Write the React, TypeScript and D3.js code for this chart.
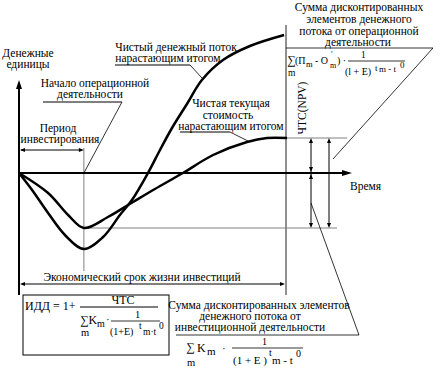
import React from 'react';
import * as d3 from 'd3';

// Curves: cumulative net cash flow and cumulative NPV (time in arbitrary years, money in arbitrary units)
const cashT = [0, 0.49, 1.09, 1.72, 2.43, 3.15, 3.78, 4.23, 4.83, 5.28, 5.73, 6.29, 6.85, 7.64, 8.65, 9.93];
const cashV = [0, -17, -40, -62, -76, -64, -42, -27, 0, 23, 45, 69, 93, 113, 127, 138];
const npvT = [0, 1.09, 1.84, 2.43, 3.33, 4.27, 5.09, 6.14, 7.27, 8.54, 9.29, 10.04];
const npvV = [0, -20, -42, -55, -44, -29, -16, 0, 18, 31, 35, 35];
const investEnd = 2.43;
const lifeEnd = 10;
const npvFinal = 35;
const npvMin = -55;

const FONT = '"Liberation Serif", "DejaVu Serif", serif';
const GRAY = '#808080';

function arrowHead(x: number, y: number, dir: 'up' | 'down' | 'left' | 'right', len = 5, half = 2) {
  let pts: [number, number][] = [];
  if (dir === 'up') pts = [[x, y], [x - half, y + len], [x + half, y + len]];
  if (dir === 'down') pts = [[x, y], [x - half, y - len], [x + half, y - len]];
  if (dir === 'left') pts = [[x, y], [x + len, y - half], [x + len, y + half]];
  if (dir === 'right') pts = [[x, y], [x - len, y - half], [x - len, y + half]];
  return <polygon points={pts.map(p => p.join(',')).join(' ')} fill="#000" />;
}

const T = ({ size = 11.5, style, ...props }: any) => (
  <text fill="#000" style={{ fontFamily: FONT, fontSize: size, ...(style || {}) }} {...props} />
);

export default function App() {
  const x = d3.scaleLinear().domain([0, 10]).range([19, 286]);
  const y = d3.scaleLinear().domain([0, 100]).range([173, 73]);
  const line = d3
    .line<[number, number]>()
    .x(d => x(d[0]))
    .y(d => y(d[1]))
    .curve(d3.curveCatmullRom.alpha(0.5));
  const cashPts = cashT.map((t, i) => [t, cashV[i]] as [number, number]);
  const npvPts = npvT.map((t, i) => [t, npvV[i]] as [number, number]);

  const xi = x(investEnd);
  const xl = x(lifeEnd);
  const y0 = y(0);
  const yTop = y(npvFinal);
  const yMin = y(npvMin);
  const axisEnd = 352;
  const a1 = 311;
  const a2 = 329;

  return (
    <svg width={442} height={376} style={{ position: 'absolute', left: 0, top: 0, background: '#fff' }}>
      <rect width={442} height={376} fill="#fff" />
      {/* thin reference lines */}
      <line x1={xi} x2={xi} y1={148} y2={271} stroke={GRAY} strokeWidth={1} />
      <line x1={xl} x2={xl} y1={25} y2={295} stroke="#222" strokeWidth={1} />
      <line x1={xl} x2={347} y1={yTop} y2={yTop} stroke={GRAY} strokeWidth={1} />
      <line x1={xi} x2={337} y1={yMin} y2={yMin} stroke={GRAY} strokeWidth={1} />

      {/* axes */}
      <line x1={19} x2={19} y1={295} y2={86} stroke="#000" strokeWidth={2} />
      {arrowHead(19, 80, 'up', 9, 3)}
      <line x1={19} x2={axisEnd - 8} y1={y0} y2={y0} stroke="#000" strokeWidth={2} />
      {arrowHead(axisEnd, y0, 'right', 10, 3)}

      {/* curves */}
      <path d={line(cashPts) || ''} fill="none" stroke="#000" strokeWidth={2.5} />
      <path d={line(npvPts) || ''} fill="none" stroke="#000" strokeWidth={2.5} />

      {/* investment period arrow */}
      <line x1={21} x2={xi - 2} y1={150} y2={150} stroke="#000" strokeWidth={1} />
      {arrowHead(20, 150, 'left', 5, 2)}
      {arrowHead(xi, 150, 'right', 5, 2)}

      {/* economic life arrow */}
      <line x1={22} x2={xl - 3} y1={284} y2={284} stroke="#000" strokeWidth={1} />
      {arrowHead(20, 284, 'left', 5, 2)}
      {arrowHead(xl - 1, 284, 'right', 5, 2)}

      {/* NPV arrows */}
      <line x1={a1} x2={a1} y1={yTop + 2} y2={yMin - 2} stroke="#000" strokeWidth={1} />
      {arrowHead(a1, yTop, 'up', 5, 2)}
      {arrowHead(a1, y0 - 1, 'down', 5, 2)}
      {arrowHead(a1, y0 + 1, 'up', 5, 2)}
      {arrowHead(a1, yMin, 'down', 5, 2)}
      <line x1={a2} x2={a2} y1={yTop + 2} y2={yMin - 2} stroke="#000" strokeWidth={1} />
      {arrowHead(a2, yTop, 'up', 5, 2)}
      {arrowHead(a2, yMin, 'down', 5, 2)}

      {/* leaders */}
      <line x1={43} x2={122} y1={102} y2={102} stroke="#000" strokeWidth={1} />
      <line x1={122} x2={xi} y1={102} y2={y0} stroke="#000" strokeWidth={0.8} />
      <line x1={115} x2={190} y1={65} y2={65} stroke="#000" strokeWidth={1} />
      <line x1={190} x2={202} y1={65} y2={78} stroke="#000" strokeWidth={0.8} />
      <line x1={180} x2={230} y1={132} y2={132} stroke="#000" strokeWidth={1} />
      <line x1={230} x2={248} y1={132} y2={141} stroke="#000" strokeWidth={0.8} />

      {/* triangles */}
      <polyline points={`${xl},48 433,48 333,159`} fill="none" stroke="#000" strokeWidth={0.8} />
      <polyline points={`${a1},203 359,335 176,335`} fill="none" stroke="#000" strokeWidth={0.8} />

      {/* box */}
      <rect x={23} y={295} width={146} height={60} fill="none" stroke="#000" strokeWidth={1} />

      {/* labels */}
      <T x={28} y={57} textAnchor="middle">Денежные</T>
      <T x={28} y={68} textAnchor="middle">единицы</T>
      <T x={176} y={51} textAnchor="middle">Чистый денежный поток</T>
      <T x={168} y={62} textAnchor="middle">нарастающим итогом</T>
      <T x={95} y={87} textAnchor="middle">Начало операционной</T>
      <T x={90} y={98} textAnchor="middle">деятельности</T>
      <T x={58} y={132} textAnchor="middle">Период</T>
      <T x={60} y={143} textAnchor="middle">инвестирования</T>
      <T x={231} y={107} textAnchor="middle">Чистая текущая</T>
      <T x={228} y={118.5} textAnchor="middle">стоимость</T>
      <T x={231} y={130} textAnchor="middle">нарастающим итогом</T>
      <T x={350} y={190}>Время</T>
      <T x={142} y={281} textAnchor="middle">Экономический срок жизни инвестиций</T>
      <T x={0} y={0} textAnchor="middle" transform="translate(306,108) rotate(-90)">ЧТС(NPV)</T>

      <T x={359} y={11} textAnchor="middle">Сумма дисконтированных</T>
      <T x={359} y={23} textAnchor="middle">элементов денежного</T>
      <T x={359} y={34.5} textAnchor="middle">потока от операционной</T>
      <T x={358} y={46} textAnchor="middle">деятельности</T>

      {/* top-right formula */}
      <T x={287} y={64} size={12}>∑</T>
      <T x={288} y={76} size={9.5}>m</T>
      <T x={295} y={64} size={10}>(П</T>
      <T x={306} y={67} size={8.5}>m</T>
      <T x={315} y={64} size={10}>- O</T>
      <T x={331} y={57} size={8}>′</T>
      <T x={330} y={68} size={8}>m</T>
      <T x={337} y={64} size={10}>) ·</T>
      <T x={361} y={58} size={9.5}>1</T>
      <line x1={348} x2={405} y1={61} y2={61} stroke="#000" strokeWidth={0.8} />
      <T x={345} y={75} size={10}>(l + E)</T>
      <T x={375} y={71} size={9}>t</T>
      <T x={379} y={72} size={9}>m - t</T>
      <T x={400} y={68} size={9}>0</T>

      {/* box formula */}
      <T x={25} y={310} size={12}>ИДД = 1+</T>
      <line x1={80} x2={158} y1={307} y2={307} stroke="#000" strokeWidth={1} />
      <T x={123} y={304} textAnchor="middle" size={12}>ЧТС</T>
      <T x={80} y={324} size={12}>∑K</T>
      <T x={97} y={327} size={10}>m</T>
      <T x={106} y={323} size={11}>·</T>
      <T x={81} y={336} size={10.5}>m</T>
      <T x={135} y={318} size={10.5}>1</T>
      <line x1={111} x2={160} y1={321} y2={321} stroke="#000" strokeWidth={0.8} />
      <T x={110} y={335} size={10}>(1+E)</T>
      <T x={139} y={329} size={9.5}>t</T>
      <T x={143} y={335} size={9.5}>m·t</T>
      <T x={159} y={329} size={9.5}>0</T>

      {/* bottom-right labels */}
      <T x={259} y={309} textAnchor="middle">Сумма дисконтированных элементов</T>
      <T x={250} y={320} textAnchor="middle">денежного потока от</T>
      <T x={250} y={331} textAnchor="middle">инвестиционной деятельности</T>
      <T x={186} y={351} size={12}>∑</T>
      <T x={187} y={366} size={10.5}>m</T>
      <T x={197} y={352} size={12}>K</T>
      <T x={207} y={355} size={11}>m</T>
      <T x={222} y={352} size={11}>·</T>
      <T x={262} y={345} size={10}>1</T>
      <line x1={232} x2={303} y1={348} y2={348} stroke="#000" strokeWidth={0.8} />
      <T x={233} y={364} size={11}>(1 + E )</T>
      <T x={269} y={356} size={10}>t</T>
      <T x={272} y={364} size={11}>m - t</T>
      <T x={296} y={357} size={10}>0</T>
    </svg>
  );
}
